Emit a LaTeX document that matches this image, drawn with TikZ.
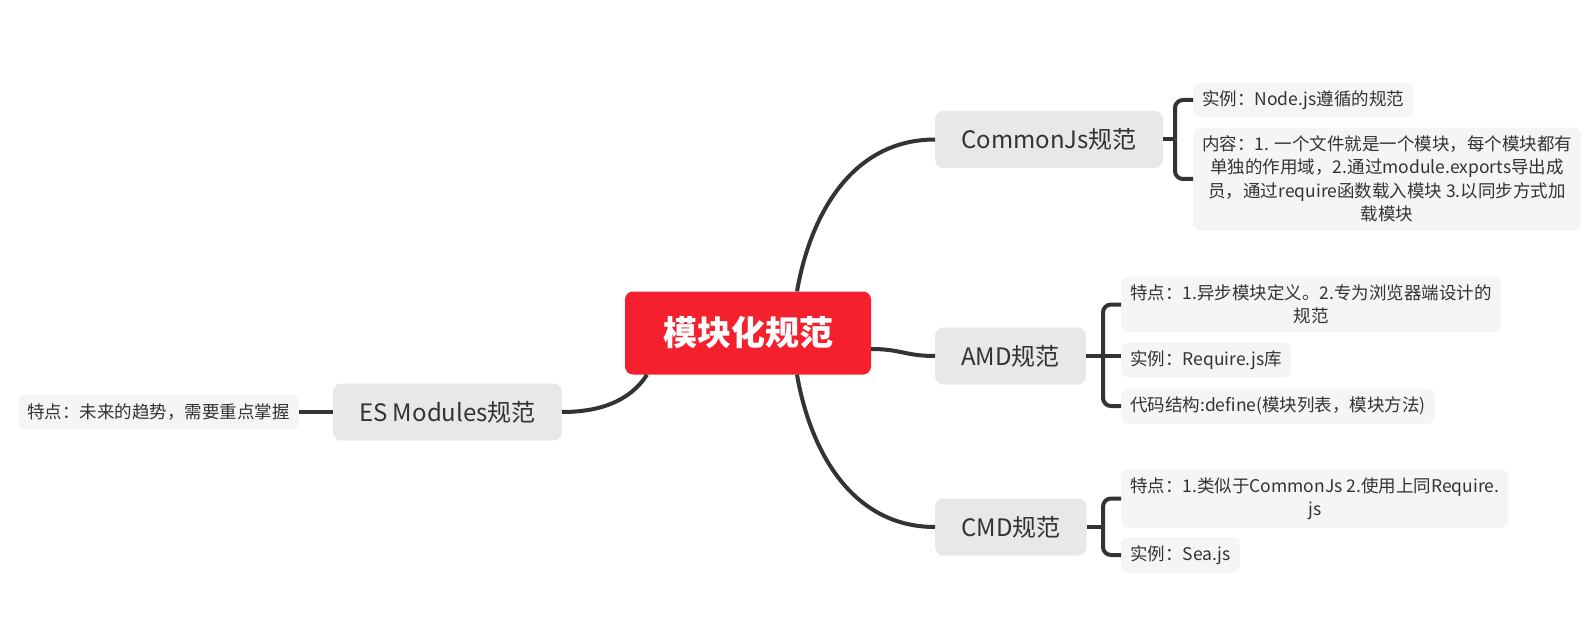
\documentclass[tikz,border=0pt]{standalone}
\usepackage{fontspec}
\setmainfont{Noto Sans CJK SC}
\usepackage{tikz}
\usetikzlibrary{calc}
\definecolor{rootred}{RGB}{245,32,45}
\definecolor{topicgray}{RGB}{232,232,232}
\definecolor{leafgray}{RGB}{245,245,245}
\definecolor{ink}{RGB}{51,51,51}

\begin{document}
\begin{tikzpicture}[x=1pt,y=-1pt,
        topic/.style={fill=topicgray,rounded corners=8pt,text=ink,font=\fontsize{24pt}{28pt}\selectfont,inner xsep=26pt,minimum height=57pt},
        leaf/.style={fill=leafgray,rounded corners=7pt,text=ink,font=\fontsize{17.5pt}{23.5pt}\selectfont,inner xsep=9pt,inner ysep=8pt,minimum height=35pt,align=center},
        branch/.style={draw=ink,line width=4pt},
        brk/.style={draw=ink,line width=4pt,rounded corners=8pt}]
        \useasboundingbox (0,0) rectangle (1592,620);
        \node[fill=rootred,rounded corners=8pt,text=white,font=\fontsize{34pt}{40pt}\selectfont\bfseries,minimum width=246pt,minimum height=83pt] (root) at (748,333) {模块化规范};
        \node[topic,anchor=west] (cjs) at (935,139.5) {CommonJs规范};
        \node[topic,anchor=west] (amd) at (935,356) {AMD规范};
        \node[topic,anchor=west] (cmd) at (935,527) {CMD规范};
        \node[topic,anchor=east] (esm) at (562,412) {ES Modules规范};
        \node[leaf,anchor=west] (cjsa) at (1193,100) {实例：Node.js遵循的规范};
        \node[leaf,anchor=west] (cjsb) at (1193,179) {内容：1. 一个文件就是一个模块，每个模块都有\\单独的作用域，2.通过module.exports导出成\\员，通过require函数载入模块 3.以同步方式加\\载模块};
        \node[leaf,anchor=west] (amda) at (1121,304.5) {特点：1.异步模块定义。2.专为浏览器端设计的\\规范};
        \node[leaf,anchor=west] (amdb) at (1121,360) {实例：Require.js库};
        \node[leaf,anchor=west] (amdc) at (1121,406) {代码结构:define(模块列表，模块方法)};
        \node[leaf,anchor=west] (cmda) at (1121,498.5) {特点：1.类似于CommonJs 2.使用上同Require.\\js};
        \node[leaf,anchor=west] (cmdb) at (1121,555) {实例：Sea.js};
        \node[leaf,anchor=east] (esa) at (299,412) {特点：未来的趋势，需要重点掌握};
        \coordinate (cjsj) at (1175,139.5);
        \coordinate (amdj) at (1103,356);
        \coordinate (cmdj) at (1103,527);
        \draw[branch] ([xshift=49pt]root.north) .. controls +(14,-80) and +(-81,0) .. (cjs.west);
        \draw[branch] ([yshift=-16pt]root.east) .. controls +(30,0) and +(-30,0) .. (amd.west);
        \draw[branch] ([xshift=49pt]root.south) .. controls +(14,80) and +(-81,0) .. (cmd.west);
        \draw[branch] ([xshift=-101pt]root.south) .. controls +(-18,28) and +(35,0) .. (esm.east);
        \draw[branch] (esm.west) -- (esa.east);
        \draw[branch] (cjs.east) -- (cjsj);
        \foreach \l in {cjsa,cjsb}
        \draw[brk] (cjsj) |- (\l.west);
        \draw[branch] (amd.east) -- (amdj) -- (amdj -| amdb.west);
        \foreach \l in {amda,amdc}
        \draw[brk] (amdj) |- (\l.west);
        \draw[branch] (cmd.east) -- (cmdj);
        \foreach \l in {cmda,cmdb}
        \draw[brk] (cmdj) |- (\l.west);
    \end{tikzpicture}
\end{document}
